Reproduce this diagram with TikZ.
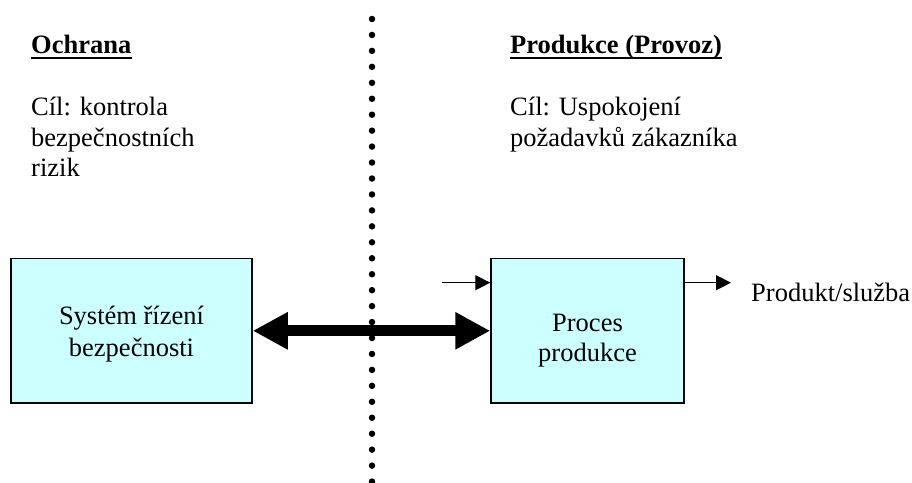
\documentclass[tikz,border=0pt]{standalone}
\usepackage{fontspec}
\setmainfont{Liberation Serif}
\usetikzlibrary{arrows.meta}

\definecolor{boxfill}{HTML}{CCFFFF}

\tikzset{
  txt/.style={inner sep=0pt, anchor=base west, font=\fontsize{26.5}{30.7}\selectfont},
  ctxt/.style={inner sep=0pt, anchor=base, font=\fontsize{26.5}{30.7}\selectfont},
  head/.style={txt, font=\fontsize{26.5}{30.7}\selectfont\bfseries},
  block/.style={draw=black, fill=boxfill, line width=1.5pt, inner sep=0pt, minimum height=144.5pt},
  thin arrow/.style={line width=1.3pt, -{Triangle[length=15pt,width=15pt]}},
  big arrow/.style={line width=11pt, {Triangle[length=35pt,width=35pt]}-{Triangle[length=35pt,width=35pt]}},
  divider/.style={line width=6.5pt, line cap=round, dash pattern=on 0pt off 15.95pt},
  uline/.style={line width=2pt}
}

\begin{document}
\begin{tikzpicture}[x=1pt, y=-1pt]
  \useasboundingbox (0,0) rectangle (912,482);

  % dotted divider between the two domains
  \coordinate (divtop) at (372,19);
  \coordinate (divbot) at (372,490);
  \begin{scope}
    \clip (0,0) rectangle (912,482);
    \draw[divider] (divtop) -- (divbot);
  \end{scope}

  % headings
  \node[head] (och) at (31,53) {Ochrana};
  \draw[uline] ([yshift=-5pt]och.base west) -- ([yshift=-5pt]och.base east);
  \node[head] (prod) at (510,53) {Produkce (Provoz)};
  \draw[uline] ([yshift=-5pt]prod.base west) -- ([yshift=-5pt]prod.base east);

  % goals
  \node[txt] (g1a) at (31,115) {Cíl: kontrola};
  \node[txt] (g1b) at (31,146) {bezpečnostních};
  \node[txt] (g1c) at (31,176) {rizik};
  \node[txt] (g2a) at (510,115) {Cíl: Uspokojení};
  \node[txt] (g2b) at (510,146) {požadavků zákazníka};

  % blocks
  \node[block, minimum width=241pt] (srb) at (131.5,330.8) {};
  \node[block, minimum width=193pt] (pp) at (587.5,330.8) {};
  \node[ctxt] (srb1) at (131.5,324) {Systém řízení};
  \node[ctxt] (srb2) at (131.5,356) {bezpečnosti};
  \node[ctxt] (pp1) at (587.5,331) {Proces};
  \node[ctxt] (pp2) at (587.5,361) {produkce};

  % interaction between the blocks
  \draw[big arrow] (srb.east) -- (pp.west);

  % input and output of the production process
  \coordinate (in) at (442,282.7);
  \coordinate (out) at (731,282.7);
  \draw[thin arrow] (in) -- (in -| pp.west);
  \draw[thin arrow] (out -| pp.east) -- (out);
  \node[txt] (result) at (751,301.5) {Produkt/služba};
\end{tikzpicture}
\end{document}
